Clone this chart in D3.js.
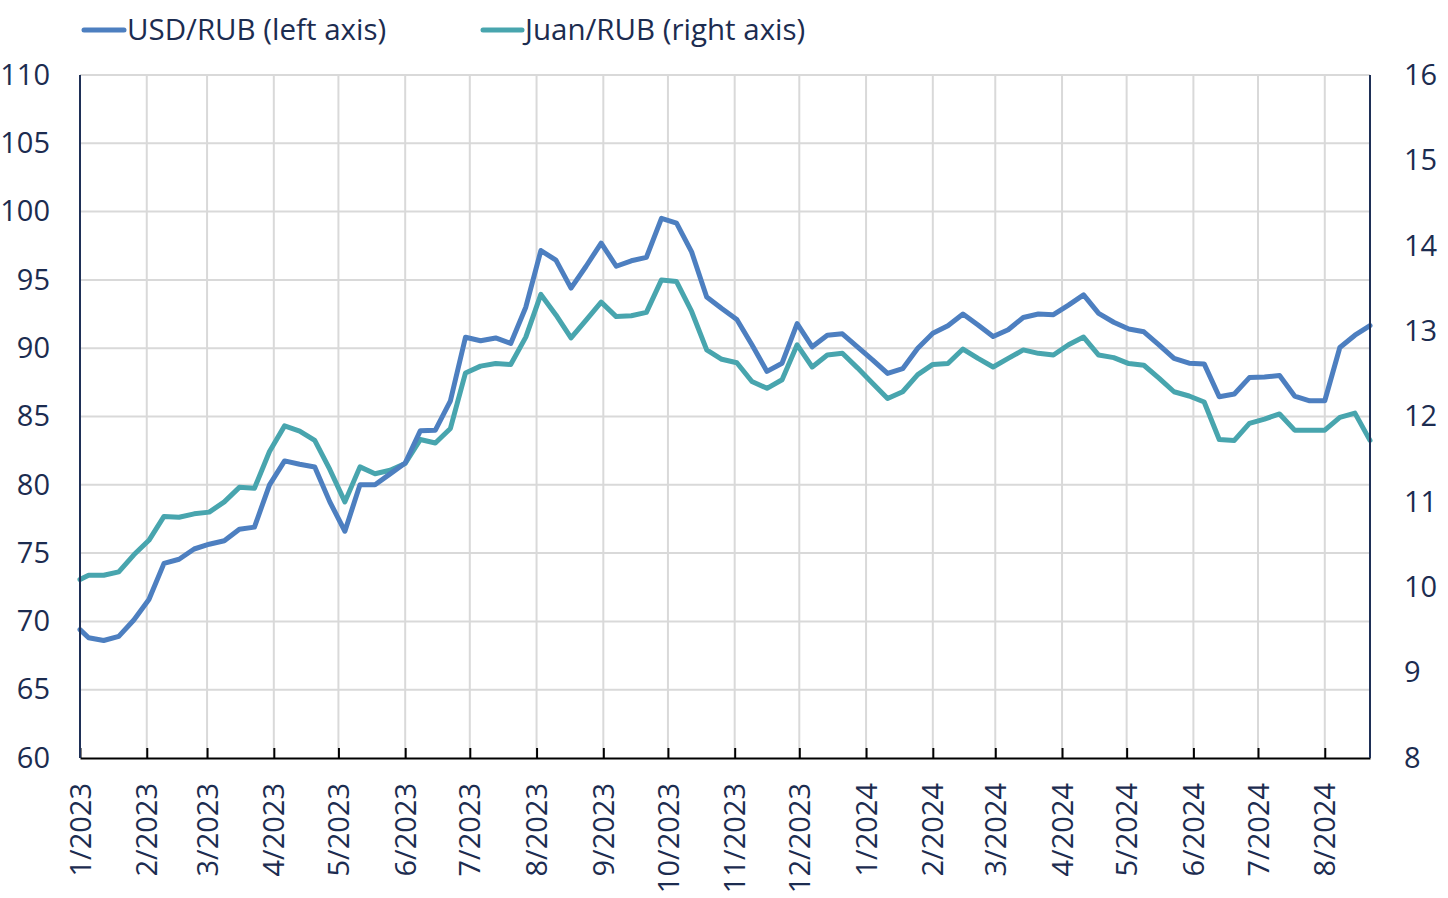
<!DOCTYPE html>
<html>
<head>
<meta charset="utf-8">
<script src="https://cdn.jsdelivr.net/npm/d3@7"></script>
<style>
  html, body { margin: 0; padding: 0; background: #ffffff; }
  svg { display: block; }
  text { font-family: "Open Sans", "Noto Sans", sans-serif; }
</style>
</head>
<body>
<svg id="chart" width="1448" height="898"></svg>
<script>
// ---- Data ----
const seriesNames = ["USD/RUB (left axis)", "Juan/RUB (right axis)"];
const firstDate = "2023-01-01";      // first observation
const weeklyStart = "2023-01-05";    // weekly observations from this date on
const usdRub = [
  69.4, 68.8, 68.6, 68.9, 70.1, 71.6, 74.25, 74.55, 75.3, 75.65,
  75.9, 76.75, 76.9, 80.0, 81.75, 81.5, 81.3, 78.75, 76.6, 80.0,
  80.0, 80.8, 81.6, 83.95, 84.0, 86.15, 90.8, 90.55, 90.75, 90.35,
  93.0, 97.15, 96.45, 94.4, 96.0, 97.7, 96.0, 96.4, 96.65, 99.5,
  99.15, 97.05, 93.75, 92.9, 92.1, 90.25, 88.3, 88.9, 91.8, 90.1,
  90.95, 91.05, 90.1, 89.15, 88.15, 88.5, 90.0, 91.1, 91.65, 92.5,
  91.7, 90.85, 91.35, 92.25, 92.5, 92.45, 93.15, 93.9, 92.55, 91.9,
  91.4, 91.2, 90.25, 89.25, 88.9, 88.85, 86.45, 86.65, 87.85, 87.9,
  88.0, 86.5, 86.15, 86.15, 90.05, 90.95, 91.65
];
const juanRub = [
  10.09, 10.14, 10.14, 10.18, 10.38, 10.55, 10.83, 10.82, 10.86, 10.88,
  11.0, 11.17, 11.16, 11.59, 11.89, 11.83, 11.72, 11.38, 11.0, 11.41,
  11.33, 11.37, 11.45, 11.73, 11.69, 11.86, 12.51, 12.59, 12.62, 12.61,
  12.93, 13.43, 13.19, 12.92, 13.13, 13.34, 13.17, 13.18, 13.22, 13.6,
  13.58, 13.23, 12.78, 12.67, 12.63, 12.41, 12.33, 12.43, 12.84, 12.58,
  12.72, 12.74, 12.57, 12.39, 12.21, 12.29, 12.49, 12.61, 12.62, 12.79,
  12.68, 12.58, 12.68, 12.78, 12.74, 12.72, 12.84, 12.93, 12.72, 12.69,
  12.62, 12.6, 12.45, 12.29, 12.24, 12.17, 11.73, 11.72, 11.92, 11.97,
  12.03, 11.84, 11.84, 11.84, 11.99, 12.04, 11.72
];
const leftTicks = [60, 65, 70, 75, 80, 85, 90, 95, 100, 105, 110];
const rightTicks = [8, 9, 10, 11, 12, 13, 14, 15, 16];

// ---- Dates ----
const parse = d3.utcParse("%Y-%m-%d");
const dates = usdRub.map((_, i) =>
  i === 0 ? parse(firstDate) : d3.utcDay.offset(parse(weeklyStart), 7 * (i - 1)));

// ---- Layout ----
const W = 1448, H = 898;
const plot = { left: 80, right: 1370, top: 75, bottom: 758 };
const colors = { usd: "#4d7fc0", juan: "#48a5ae", text: "#1c2c50", grid: "#d9d9d9", axis: "#1f3057" };
const fontSize = 29;

const svg = d3.select("#chart");

const x = d3.scaleUtc()
  .domain([parse(firstDate), dates[dates.length - 1]])
  .range([plot.left, plot.right]);
const yL = d3.scaleLinear().domain([60, 110]).range([plot.bottom, plot.top]);
const yR = d3.scaleLinear().domain([8, 16]).range([plot.bottom, plot.top]);

const monthTicks = d3.utcMonth.range(parse(firstDate), dates[dates.length - 1]);
const fmtMonth = d => (d.getUTCMonth() + 1) + "/" + d.getUTCFullYear();

// ---- Grid ----
const grid = svg.append("g");
grid.selectAll("line.h").data(leftTicks.filter(v => v > 60)).join("line")
  .attr("x1", plot.left).attr("x2", plot.right)
  .attr("y1", d => yL(d)).attr("y2", d => yL(d))
  .attr("stroke", colors.grid).attr("stroke-width", 2);
grid.selectAll("line.v").data(monthTicks.slice(1)).join("line")
  .attr("x1", d => x(d)).attr("x2", d => x(d))
  .attr("y1", plot.top).attr("y2", plot.bottom)
  .attr("stroke", colors.grid).attr("stroke-width", 2);

// ---- Lines ----
const lineL = d3.line().x((d, i) => x(dates[i])).y(d => yL(d));
const lineR = d3.line().x((d, i) => x(dates[i])).y(d => yR(d));

svg.append("path").datum(juanRub)
  .attr("d", lineR).attr("fill", "none")
  .attr("stroke", colors.juan).attr("stroke-width", 5)
  .attr("stroke-linejoin", "round").attr("stroke-linecap", "round");
svg.append("path").datum(usdRub)
  .attr("d", lineL).attr("fill", "none")
  .attr("stroke", colors.usd).attr("stroke-width", 5)
  .attr("stroke-linejoin", "round").attr("stroke-linecap", "round");

// ---- Axes ----
const gL = svg.append("g").attr("transform", `translate(${plot.left},0)`)
  .call(d3.axisLeft(yL).tickValues(leftTicks).tickSize(0).tickPadding(30));
gL.select(".domain").remove();
gL.selectAll("text").attr("font-size", fontSize).attr("fill", colors.text)
  .style("font-family", '"Open Sans", "Noto Sans", sans-serif');

const gR = svg.append("g").attr("transform", `translate(${plot.right},0)`)
  .call(d3.axisRight(yR).tickValues(rightTicks).tickSize(0).tickPadding(34));
gR.select(".domain").remove();
gR.selectAll("text").attr("font-size", fontSize).attr("fill", colors.text)
  .style("font-family", '"Open Sans", "Noto Sans", sans-serif');

const gB = svg.append("g").attr("transform", `translate(0,${plot.bottom})`)
  .call(d3.axisBottom(x).tickValues(monthTicks).tickFormat(fmtMonth)
    .tickSize(-10).tickSizeOuter(0));
gB.select(".domain").attr("stroke", "#000").attr("stroke-width", 2);
gB.selectAll(".tick line").attr("stroke", "#000").attr("stroke-width", 2);
gB.selectAll("text")
  .attr("font-size", fontSize).attr("fill", colors.text)
  .style("font-family", '"Open Sans", "Noto Sans", sans-serif')
  .attr("transform", "rotate(-90)")
  .attr("text-anchor", "end")
  .attr("x", -25).attr("y", 0).attr("dy", "0.35em");

// vertical axis lines
svg.append("line").attr("x1", plot.left).attr("x2", plot.left)
  .attr("y1", plot.top).attr("y2", plot.bottom)
  .attr("stroke", colors.axis).attr("stroke-width", 2);
svg.append("line").attr("x1", plot.right).attr("x2", plot.right)
  .attr("y1", plot.top).attr("y2", plot.bottom)
  .attr("stroke", colors.axis).attr("stroke-width", 2);

// ---- Legend ----
const legendItems = [
  { name: seriesNames[0], color: colors.usd, x1: 84, x2: 124, tx: 127 },
  { name: seriesNames[1], color: colors.juan, x1: 483, x2: 522, tx: 525 }
];
const lg = svg.append("g");
lg.selectAll("line").data(legendItems).join("line")
  .attr("x1", d => d.x1).attr("x2", d => d.x2).attr("y1", 30).attr("y2", 30)
  .attr("stroke", d => d.color).attr("stroke-width", 5).attr("stroke-linecap", "round");
lg.selectAll("text").data(legendItems).join("text")
  .attr("x", d => d.tx).attr("y", 30).attr("dy", "0.35em")
  .attr("font-size", 29.5).attr("fill", colors.text)
  .text(d => d.name);
</script>
</body>
</html>
